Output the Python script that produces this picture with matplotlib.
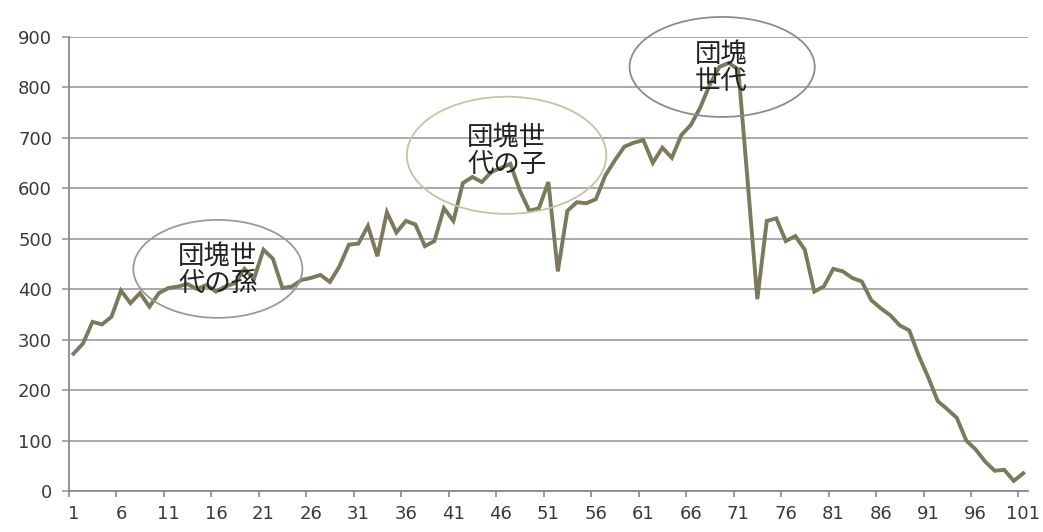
import numpy as np
import matplotlib
matplotlib.use("Agg")
import matplotlib.pyplot as plt
from matplotlib.patches import Ellipse
from matplotlib.ticker import FixedLocator

plt.rcParams['font.family'] = ['Noto Sans CJK JP', 'DejaVu Sans']

# age-by-age counts (1..101)
ages = list(range(1, 102))
counts = [
    272, 292, 335, 330, 345, 397, 372, 392, 365, 392,
    402, 405, 410, 400, 408, 395, 405, 412, 440, 420,
    478, 460, 402, 405, 418, 422, 428, 414, 445, 488,
    490, 525, 465, 552, 512, 535, 528, 485, 495, 560,
    535, 610, 622, 612, 632, 640, 648, 595, 555, 560,
    612, 435, 555, 572, 570, 578, 625, 655, 682, 690,
    695, 650, 680, 660, 705, 725, 760, 805, 840, 848,
    835, 610, 380, 535, 540, 495, 505, 478, 395, 405,
    440, 435, 422, 415, 378, 362, 348, 328, 318, 268,
    225, 178, 162, 145, 100, 82, 58, 40, 42, 20,
    35,
]
tick_labels = [str(a) for a in range(1, 102, 5)]

# circled generations: (text, center x, center y, width, height, edge colour)
groups = [
    ("団塊世\n代の孫", 16.2, 440, 17.8, 194, "#9a9a9a"),
    ("団塊世\n代の子", 46.6, 665, 21.0, 232, "#c4c4a2"),
    ("団塊\n世代", 69.3, 840, 19.5, 198, "#8c8c8c"),
]
label_pos = [(16.2, 437), (46.6, 673), (69.2, 837)]

fig = plt.figure(figsize=(10.43, 5.32), dpi=100)
ax = fig.add_axes([0.0659, 0.0771, 0.9197, 0.854])

ax.plot(ages, counts, color="#7b7a5c", lw=2.8, solid_joinstyle="miter", zorder=3)

ax.set_xlim(0.5, 101.5)
ax.set_ylim(0, 900)
ax.set_yticks(range(0, 1000, 100))
ax.yaxis.grid(True, color="#a3a3a3", lw=1.3)
ax.set_axisbelow(True)

ax.set_xticks(range(1, 102, 5))
ax.set_xticklabels(tick_labels)
ax.xaxis.set_minor_locator(FixedLocator(np.arange(0.5, 101, 5)))
ax.tick_params(axis="x", which="major", length=0, pad=10, labelsize=13, labelcolor="#3a3a3a")
ax.tick_params(axis="x", which="minor", length=4, color="#8a8a8a", width=1.2)
ax.tick_params(axis="y", length=5, color="#a3a3a3", width=1.3, pad=7, labelsize=13, labelcolor="#3a3a3a")
for lab in ax.get_xticklabels() + ax.get_yticklabels():
    lab.set_family("DejaVu Sans")

for s in ["top", "right"]:
    ax.spines[s].set_visible(False)
ax.spines["left"].set_color("#8a8a8a")
ax.spines["bottom"].set_color("#8a8a8a")
ax.spines["left"].set_linewidth(1.3)
ax.spines["bottom"].set_linewidth(1.3)

for (txt, cx, cy, w, h, ec), (tx, ty) in zip(groups, label_pos):
    ax.add_patch(Ellipse((cx, cy), w, h, fill=False, edgecolor=ec, lw=1.3, clip_on=False, zorder=4))
    ax.text(tx, ty, txt, ha="center", va="center", fontsize=19, color="#222222",
            linespacing=1.0, zorder=5)

fig.savefig("out.png", dpi=100)
